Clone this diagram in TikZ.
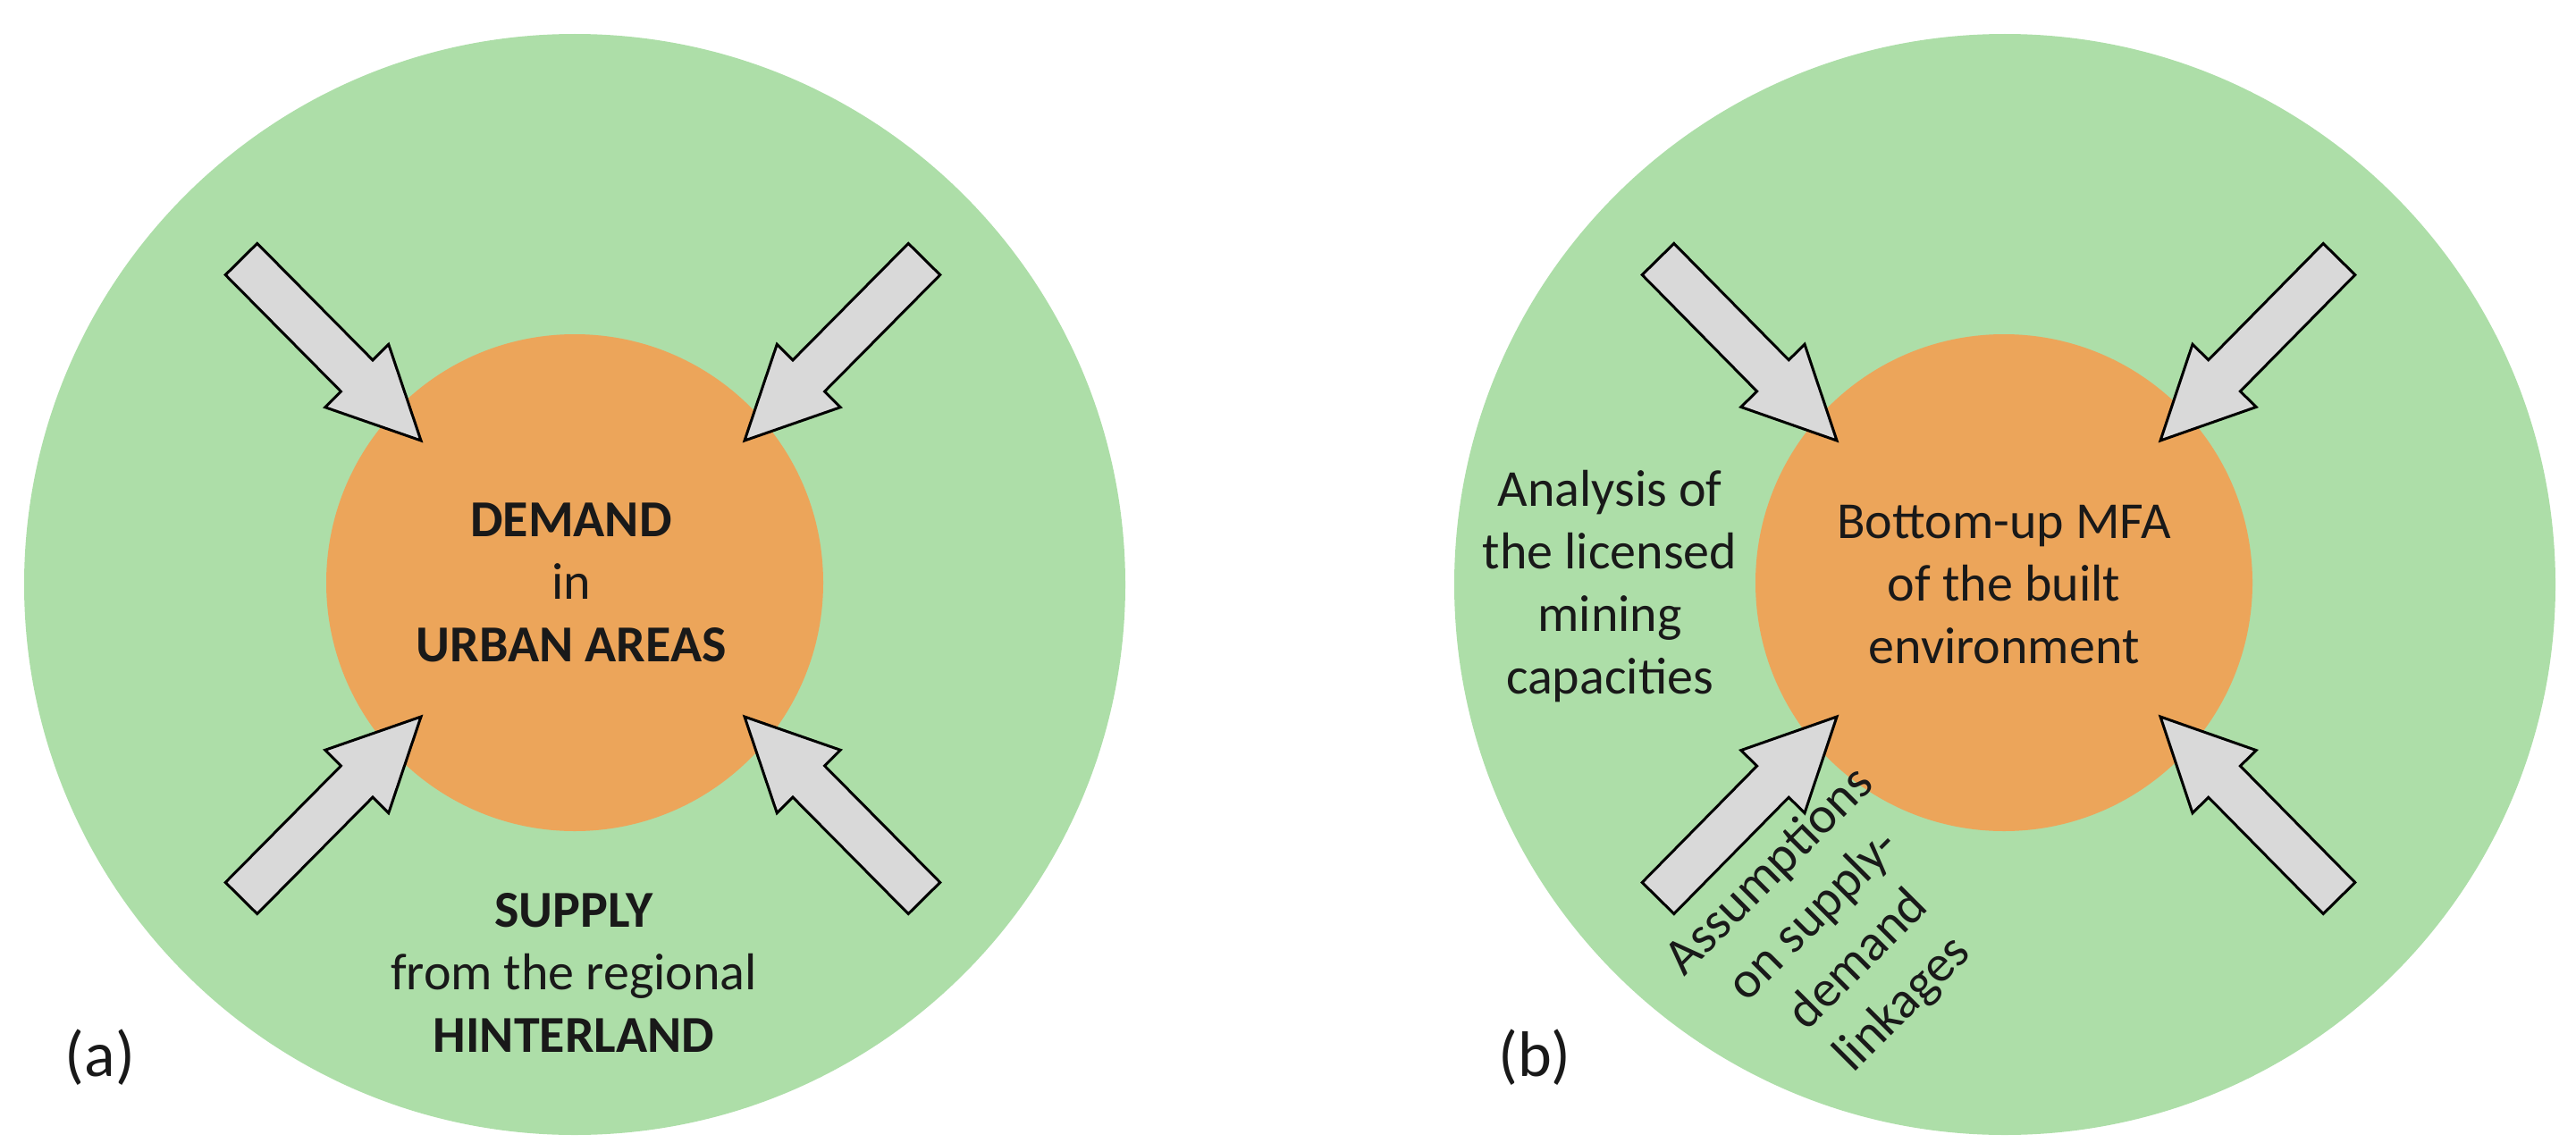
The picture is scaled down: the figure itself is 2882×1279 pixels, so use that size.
\documentclass[tikz,border=0pt]{standalone}
\usepackage{fontspec}
\setmainfont{Carlito}
\usetikzlibrary{calc}
\definecolor{bg}{HTML}{ADDEA8}
\definecolor{core}{HTML}{ECA55A}
\definecolor{arr}{HTML}{D9D9D9}
\tikzset{
  outer/.style={circle,fill=bg,minimum size=1232pt,inner sep=0pt},
  inner/.style={circle,fill=core,minimum size=556pt,inner sep=0pt},
  txt/.style={align=center,font=\fontsize{58}{70}\selectfont,text=black!90},
  lab/.style={font=\fontsize{72}{80}\selectfont,text=black!90},
  barrow/.style={fill=arr,draw=black,line width=3pt,line join=miter}
}
\newcommand{\blockarrow}[2]{%
  \coordinate (H) at ($(#2)!102pt!(#1)$);
  \draw[barrow] ($(#1)!25pt!90:(#2)$) -- ($(H)!25pt!90:(#2)$) -- ($(H)!50pt!90:(#2)$) -- (#2)
    -- ($(H)!50pt!-90:(#2)$) -- ($(H)!25pt!-90:(#2)$) -- ($(#1)!25pt!-90:(#2)$) -- cycle;}
\begin{document}
\begin{tikzpicture}[x=1pt,y=-1pt]
\useasboundingbox (0,0) rectangle (2882,1279);
% panel a
\node[outer] (oa) at (643,654) {};
\node[inner] (ia) at (643,652) {};
\coordinate (a1t) at (270,290); \coordinate (a1h) at (471,493);
\coordinate (a2t) at (1034,290); \coordinate (a2h) at (833,493);
\coordinate (a3t) at (270,1005); \coordinate (a3h) at (471,802);
\coordinate (a4t) at (1034,1005); \coordinate (a4h) at (833,802);
\blockarrow{a1t}{a1h}\blockarrow{a2t}{a2h}\blockarrow{a3t}{a3h}\blockarrow{a4t}{a4h}
\node[txt] (ta) at (639,652) {\textbf{DEMAND}\\in\\\textbf{URBAN AREAS}};
\node[txt] (sa) at (642,1088) {\textbf{SUPPLY}\\from the regional\\\textbf{HINTERLAND}};
\node[lab] (la) at (112,1183) {(a)};
% panel b
\node[outer] (ob) at (2243,654) {};
\node[inner] (ib) at (2242,652) {};
\coordinate (b1t) at (1855,290); \coordinate (b1h) at (2055,493);
\coordinate (b2t) at (2617,290); \coordinate (b2h) at (2417,493);
\coordinate (b3t) at (1855,1005); \coordinate (b3h) at (2055,802);
\coordinate (b4t) at (2617,1005); \coordinate (b4h) at (2417,802);
\blockarrow{b1t}{b1h}\blockarrow{b2t}{b2h}\blockarrow{b3t}{b3h}\blockarrow{b4t}{b4h}
\node[txt] (tb) at (2242,654) {Bottom-up MFA\\of the built\\environment};
\node[txt] (ab) at (1801,656) {Analysis of\\the licensed\\mining\\capacities};
\node[txt,rotate=45] (asb) at (2055,1050) {Assumptions\\on supply-\\demand\\linkages};
\node[lab] (lb) at (1717,1183) {(b)};
\end{tikzpicture}
\end{document}
